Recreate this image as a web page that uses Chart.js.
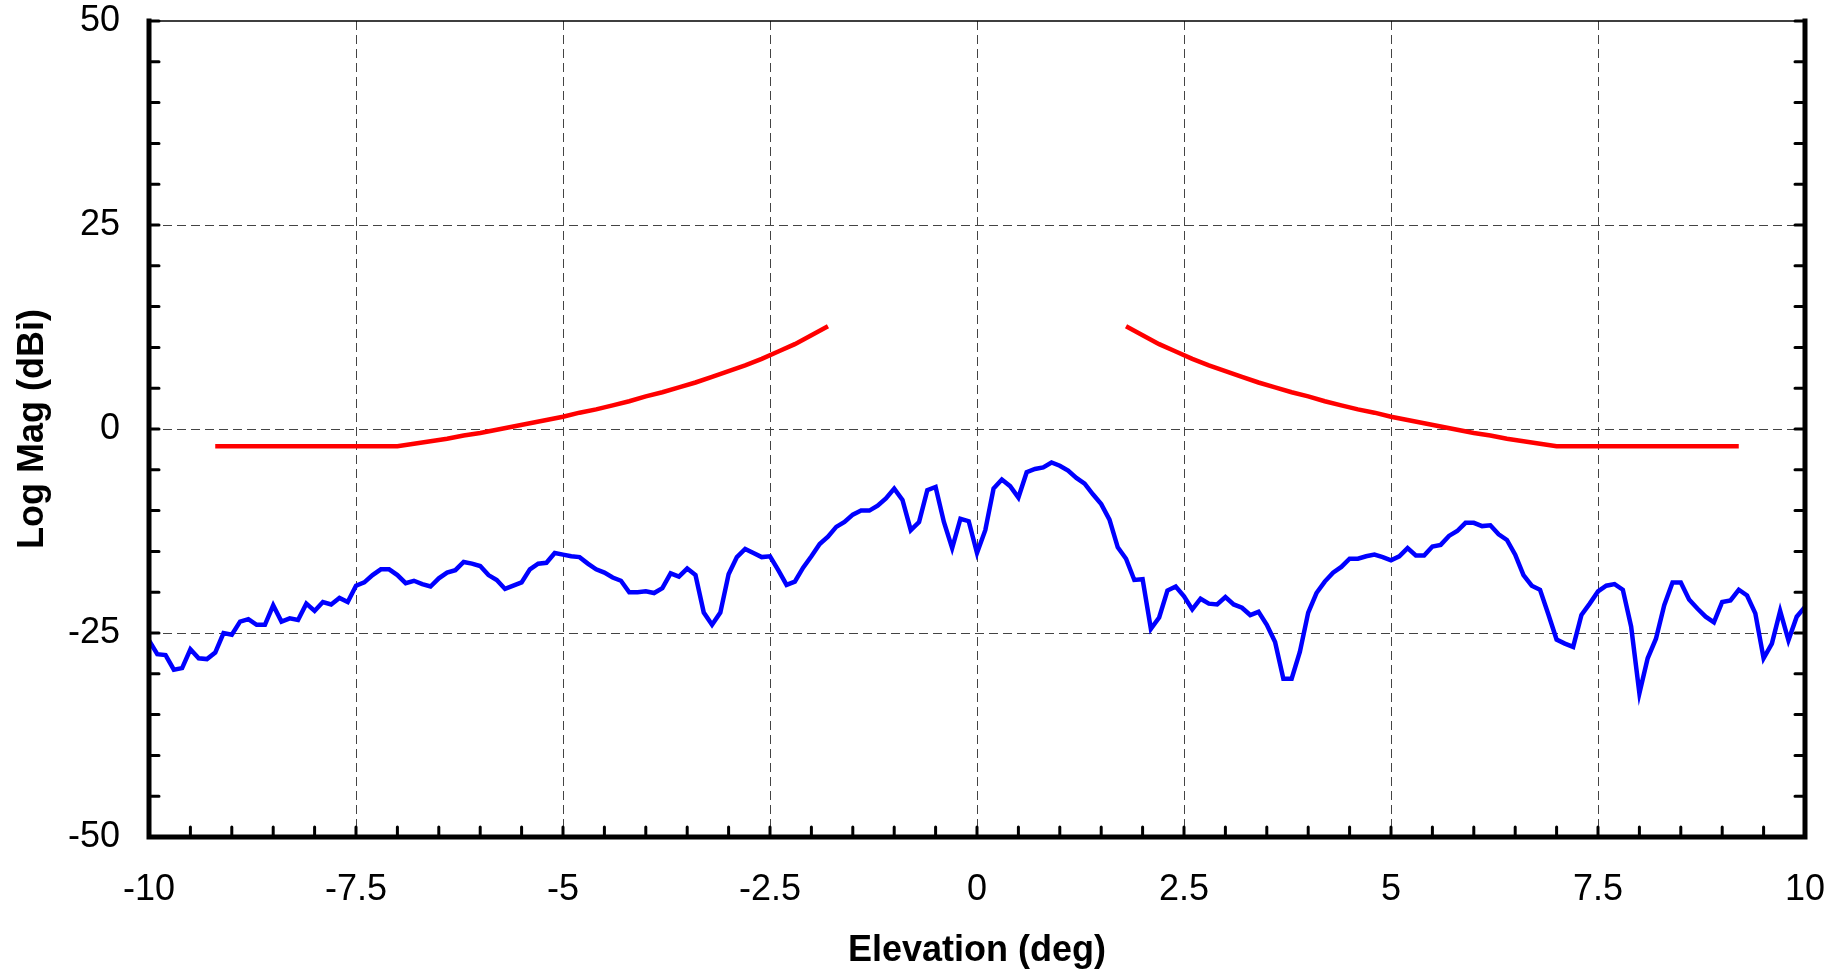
<!DOCTYPE html>
<html>
<head>
<meta charset="utf-8">
<script src="https://cdn.jsdelivr.net/npm/chart.js@4.4.1/dist/chart.umd.min.js"></script>
<style>
  html, body { margin: 0; padding: 0; background: #fff; }
  #wrap { width: 1843px; height: 974px; position: relative; }
</style>
</head>
<body>
<div id="wrap"><canvas id="myChart"></canvas></div>
<script>
// measured gain, 0.1 deg steps from -10 to 10
const blueGain = [
  -25.9, -27.6, -27.7, -29.5, -29.3, -27.0, -28.1, -28.2, -27.4, -25.0,
  -25.2, -23.6, -23.3, -24.0, -24.0, -21.6, -23.6, -23.2, -23.4, -21.4,
  -22.3, -21.2, -21.5, -20.7, -21.2, -19.2, -18.8, -17.9, -17.2, -17.2,
  -17.9, -18.9, -18.6, -19.0, -19.3, -18.3, -17.6, -17.3, -16.3, -16.5,
  -16.8, -17.9, -18.5, -19.6, -19.2, -18.8, -17.2, -16.5, -16.4, -15.2,
  -15.4, -15.6, -15.7, -16.5, -17.2, -17.6, -18.2, -18.6, -20.0, -20.0,
  -19.9, -20.1, -19.5, -17.7, -18.1, -17.1, -17.9, -22.5, -24.0, -22.5,
  -17.8, -15.7, -14.7, -15.2, -15.7, -15.6, -17.3, -19.1, -18.7, -17.0,
  -15.6, -14.1, -13.2, -12.0, -11.4, -10.5, -10.0, -10.0, -9.4, -8.5,
  -7.3, -8.7, -12.4, -11.4, -7.5, -7.1, -11.4, -14.6, -11.0, -11.3,
  -15.2, -12.4, -7.3, -6.2, -7.0, -8.4, -5.3, -4.9, -4.7, -4.1,
  -4.5, -5.1, -6.0, -6.7, -8.0, -9.2, -11.1, -14.5, -15.9, -18.5,
  -18.4, -24.5, -23.1, -19.8, -19.3, -20.5, -22.1, -20.8, -21.4, -21.5,
  -20.6, -21.5, -21.9, -22.8, -22.4, -24.0, -26.1, -30.6, -30.6, -27.3,
  -22.5, -20.1, -18.7, -17.6, -16.9, -15.9, -15.9, -15.6, -15.4, -15.7,
  -16.1, -15.6, -14.6, -15.5, -15.5, -14.4, -14.2, -13.1, -12.5, -11.5,
  -11.5, -11.9, -11.8, -12.9, -13.6, -15.4, -17.9, -19.2, -19.7, -22.7,
  -25.8, -26.3, -26.7, -22.8, -21.4, -19.9, -19.2, -19.0, -19.7, -24.2,
  -32.4, -28.1, -25.7, -21.6, -18.8, -18.8, -20.9, -22.0, -23.0, -23.7,
  -21.2, -21.0, -19.7, -20.4, -22.6, -28.1, -26.3, -22.3, -25.9, -23.0,
  -21.8
];
const blueElev = blueGain.map((_, i) => Math.round((-10 + i * 0.1) * 10) / 10);

// mask lines (red)
const maskLeftElev = [-9.2, -7.0, -6.8, -6.6, -6.4, -6.2, -6.0, -5.8, -5.6, -5.4, -5.2, -5.0,
  -4.8, -4.6, -4.4, -4.2, -4.0, -3.8, -3.6, -3.4, -3.2, -3.0, -2.8, -2.6, -2.4, -2.2, -2.0, -1.8];
const maskLeftDb = [-2.1, -2.1, -1.8, -1.5, -1.2, -0.8, -0.5, -0.1, 0.3, 0.7, 1.1, 1.5,
  2.0, 2.4, 2.9, 3.4, 4.0, 4.5, 5.1, 5.7, 6.4, 7.1, 7.8, 8.6, 9.5, 10.4, 11.5, 12.6];
const maskRightElev = [1.8, 2.0, 2.2, 2.4, 2.6, 2.8, 3.0, 3.2, 3.4, 3.6, 3.8, 4.0, 4.2, 4.4,
  4.6, 4.8, 5.0, 5.2, 5.4, 5.6, 5.8, 6.0, 6.2, 6.4, 6.6, 6.8, 7.0, 9.2];
const maskRightDb = [12.6, 11.5, 10.4, 9.5, 8.6, 7.8, 7.1, 6.4, 5.7, 5.1, 4.5, 4.0, 3.4, 2.9,
  2.4, 2.0, 1.5, 1.1, 0.7, 0.3, -0.1, -0.5, -0.8, -1.2, -1.5, -1.8, -2.1, -2.1];

const xLabeled = [-10, -7.5, -5, -2.5, 0, 2.5, 5, 7.5, 10];
const yLabeled = [-50, -25, 0, 25, 50];

function pts(xs, ys) {
  return xs.map((x, i) => ({ x: x, y: ys[i] }));
}

const fontFam = "'Liberation Sans', Arial, sans-serif";

// draws the frame and the inward tick marks
const framePlugin = {
  id: 'framePlugin',
  afterDraw(chart) {
    const { ctx, chartArea: a, scales } = chart;
    const x = scales.x, y = scales.y;
    ctx.save();
    ctx.strokeStyle = '#000';
    ctx.lineCap = 'round';
    ctx.lineWidth = 3;
    ctx.beginPath();
    y.ticks.forEach(t => {
      const py = y.getPixelForValue(t.value);
      ctx.moveTo(a.left, py); ctx.lineTo(a.left + 10, py);
      ctx.moveTo(a.right, py); ctx.lineTo(a.right - 10, py);
    });
    x.ticks.forEach(t => {
      const px = x.getPixelForValue(t.value);
      ctx.moveTo(px, a.bottom); ctx.lineTo(px, a.bottom - 10);
    });
    ctx.stroke();

    ctx.lineWidth = 1.5;
    ctx.beginPath();
    ctx.moveTo(a.left, a.top); ctx.lineTo(a.right, a.top);
    ctx.stroke();

    ctx.lineWidth = 5;
    ctx.lineCap = 'square';
    ctx.beginPath();
    ctx.moveTo(a.left, a.top);
    ctx.lineTo(a.left, a.bottom);
    ctx.lineTo(a.right, a.bottom);
    ctx.lineTo(a.right, a.top);
    ctx.stroke();
    ctx.restore();
  }
};

// fixed axis sizes, no extra padding for overflowing labels
function fixX(s) {
  s.height = 137;
  s.paddingLeft = 0; s.paddingRight = 0; s.paddingTop = 0; s.paddingBottom = 0;
}
function fixY(s) {
  s.width = 149;
  s.paddingLeft = 0; s.paddingRight = 0; s.paddingTop = 0; s.paddingBottom = 0;
}

const ctx = document.getElementById('myChart').getContext('2d');
const myChart = new Chart(ctx, {
  type: 'line',
  data: {
    datasets: [{
      label: 'Medida',
      data: pts(blueElev, blueGain),
      borderColor: '#0000ff',
      borderWidth: 4.5,
      pointRadius: 0,
      tension: 0
    }, {
      label: 'Mascara izq',
      data: pts(maskLeftElev, maskLeftDb),
      borderColor: '#ff0000',
      borderWidth: 4.5,
      pointRadius: 0,
      tension: 0
    }, {
      label: 'Mascara der',
      data: pts(maskRightElev, maskRightDb),
      borderColor: '#ff0000',
      borderWidth: 4.5,
      pointRadius: 0,
      tension: 0
    }]
  },
  options: {
    responsive: true,
    maintainAspectRatio: false,
    animation: false,
    layout: { padding: { left: 0, top: 21, right: 38, bottom: 0 } },
    plugins: {
      legend: { display: false },
      tooltip: { enabled: false }
    },
    scales: {
      x: {
        type: 'linear',
        min: -10,
        max: 10,
        afterFit: fixX,
        border: { display: false, dash: [9, 5] },
        grid: {
          drawTicks: false,
          lineWidth: 1,
          color: c => (xLabeled.includes(c.tick.value) && Math.abs(c.tick.value) < 10) ? '#444' : 'rgba(0,0,0,0)'
        },
        ticks: {
          stepSize: 0.5,
          autoSkip: false,
          maxRotation: 0,
          padding: 31,
          color: '#000',
          font: { family: fontFam, size: 36 },
          callback: v => xLabeled.includes(v) ? String(v) : ''
        },
        title: {
          display: true,
          text: 'Elevation (deg)',
          color: '#000',
          font: { family: fontFam, size: 36, weight: 'bold' },
          padding: { top: 0, bottom: 1 }
        }
      },
      y: {
        type: 'linear',
        min: -50,
        max: 50,
        afterFit: fixY,
        border: { display: false, dash: [9, 5] },
        grid: {
          drawTicks: false,
          lineWidth: 1,
          color: c => (yLabeled.includes(c.tick.value) && Math.abs(c.tick.value) < 50) ? '#444' : 'rgba(0,0,0,0)'
        },
        ticks: {
          stepSize: 5,
          autoSkip: false,
          padding: 29,
          color: '#000',
          font: { family: fontFam, size: 36 },
          callback: v => yLabeled.includes(v) ? String(v) : ''
        },
        title: {
          display: true,
          text: 'Log Mag (dBi)',
          color: '#000',
          font: { family: fontFam, size: 36, weight: 'bold' },
          padding: { top: 11, bottom: 0 }
        }
      }
    }
  },
  plugins: [framePlugin]
});
</script>
</body>
</html>
